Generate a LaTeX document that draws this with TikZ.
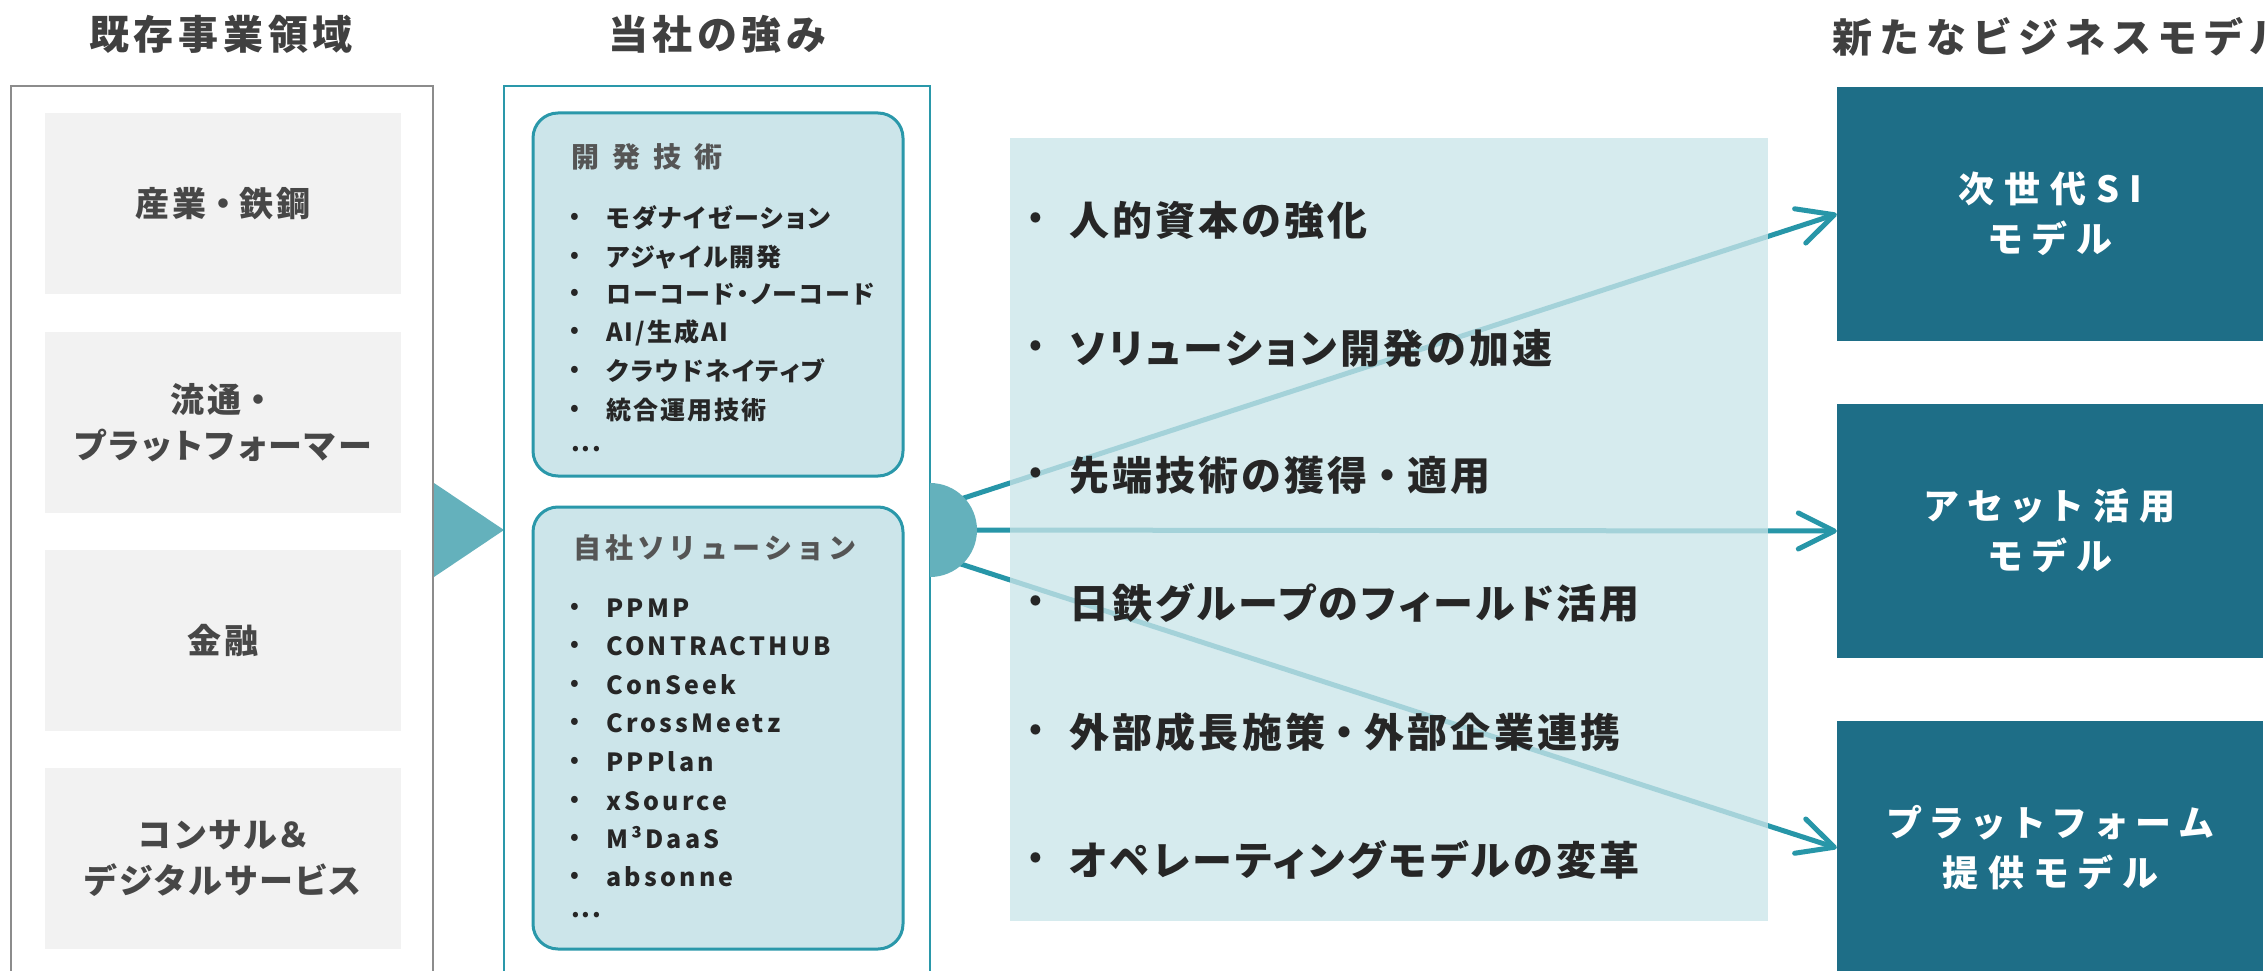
\documentclass[tikz,border=0pt]{standalone}
\usepackage{fontspec}
\setmainfont{Noto Sans CJK JP}[RawFeature=+palt]
\newfontfamily\jpplain{Noto Sans CJK JP}
\usetikzlibrary{arrows.meta}
\definecolor{tgray}{HTML}{404040}
\definecolor{boxtxt}{HTML}{474747}
\definecolor{itemtxt}{HTML}{262626}
\definecolor{headtxt}{HTML}{555555}
\definecolor{framegray}{HTML}{8C8C8C}
\definecolor{boxgray}{HTML}{F2F2F2}
\definecolor{frameteal}{HTML}{2A98AA}
\definecolor{rboxfill}{HTML}{CCE5EA}
\definecolor{hubteal}{HTML}{64B1BC}
\definecolor{lineteal}{HTML}{2796A8}
\definecolor{midfill}{RGB}{202,229,233}
\definecolor{modelblue}{HTML}{1E6E87}
\newcommand\myfs[3]{\fontsize{#1pt}{#2pt}\selectfont\addfontfeatures{LetterSpace=#3}}
\newcommand\nkg{\kern.24em・\kern.24em}
\begin{document}
\begin{tikzpicture}[x=1pt,y=-1pt,
  title/.style={font={\bfseries\myfs{40}{48}{12}}, text=tgray, inner sep=0pt},
  areabox/.style={fill=boxgray, minimum width=356pt, minimum height=181pt, inner sep=0pt, align=center, text=boxtxt, font={\bfseries\myfs{34}{46}{8}}},
  rbox/.style={draw=frameteal, line width=3pt, fill=rboxfill, rounded corners=25pt, inner sep=0pt},
  hdtext/.style={anchor=base west, inner sep=0pt, text=headtxt, font={\bfseries\myfs{28}{34}{#1}}},
  itm/.style={anchor=base west, inner sep=0pt, text=itemtxt, font={\bfseries\myfs{25}{30}{#1}}},
  itm/.default=8,
  bul/.style={inner sep=0pt, text=itemtxt, font={\bfseries\fontsize{22pt}{26pt}\selectfont}},
  bigitm/.style={anchor=base west, inner sep=0pt, text=itemtxt, font={\bfseries\myfs{40}{48}{8}}},
  bigbul/.style={inner sep=0pt, text=itemtxt, font={\bfseries\fontsize{32pt}{36pt}\selectfont}},
  modelbox/.style={fill=modelblue, minimum width=426pt, minimum height=254pt, inner sep=0pt, text=white, align=center, font={\bfseries\myfs{36}{50}{28}}},
  conn/.style={draw=lineteal, line width=5pt, -{Straight Barb[length=36pt,width=36pt,round]}}
]
\useasboundingbox (0,0) rectangle (2265,971);
\clip (0,0) rectangle (2265,971);
\fill[white] (0,0) rectangle (2265,971);

% titles
\node[title] (t1) at (221,34) {既存事業領域};
\node[title] (t2) at (717,34) {当社の強み};
\node[title, anchor=west, font={\bfseries\myfs{40}{48}{20}}] (t3) at (1832,37) {新たなビジネスモデル};

% left column
\draw[framegray, line width=2.5pt] (11,86) rectangle (433,1000);
\node[areabox] (a1) at (223,203.5) {産業\nkg 鉄鋼};
\node[areabox] (a2) at (223,422.5) {流通\nkg\\プラットフォーマー};
\node[areabox] (a3) at (223,640.5) {金融};
\node[areabox] (a4) at (223,858.5) {コンサル＆\\デジタルサービス};

% triangle
\fill[hubteal] (434,483) -- (504,530) -- (434,577) -- cycle;

% middle column
\draw[frameteal, line width=2.5pt] (504,86) rectangle (930,1000);
\node[rbox, minimum width=370pt, minimum height=363pt] (k1) at (718,294.5) {};
\node[rbox, minimum width=370pt, minimum height=442pt] (k2) at (718,728) {};
\node[hdtext=47] (hd1) at (571,167.6) {開発技術};
\node[hdtext=14, font={\jpplain\bfseries\myfs{28}{34}{14}}] (hd2) at (573,558.6) {自社ソリューション};
\foreach \y/\t [count=\i] in {218/モダナイゼーション, 257/アジャイル開発, 294/ローコード・ノーコード, 332/{AI/生成AI}, 371/クラウドネイティブ, 410/統合運用技術}{
  \node[bul] (ba\i) at (575,\y) {•};
  \node[itm] (ia\i) at (606,\y+9.5) {\t};
}
\node[itm] (ea) at (571,451) {...};
\foreach \y/\t [count=\i] in {608/PPMP, 646/CONTRACTHUB, 685/ConSeek, 723/CrossMeetz, 762/PPPlan, 801/xSource, 839/M³DaaS, 877/absonne}{
  \node[bul] (bb\i) at (575,\y) {•};
  \node[itm=13] (ib\i) at (606,\y+9.5) {\t};
}
\node[itm] (eb) at (571,917) {...};

% right boxes
\node[modelbox] (m1) at (2050,214) {次世代SI\\モデル};
\node[modelbox] (m2) at (2050,531) {アセット活用\\モデル};
\node[modelbox] (m3) at (2050,848) {プラットフォーム\\提供モデル};

% connectors
\coordinate (h1) at (930,509);
\coordinate (h2) at (930,530);
\coordinate (h3) at (930,554);
\draw[conn] (h1) -- (m1.west);
\draw[conn] (h2) -- (m2.west);
\draw[conn] (h3) -- (m3.west);

% translucent panel
\node[fill=midfill, fill opacity=0.77, minimum width=758pt, minimum height=783pt, inner sep=0pt] (mid) at (1389,529.5) {};
\foreach \y/\t [count=\i] in {220/人的資本の強化, 348/ソリューション開発の加速, 475/先端技術の獲得\nkg 適用, 603/日鉄グループのフィールド活用, 732/外部成長施策\nkg 外部企業連携, 860/オペレーティングモデルの変革}{
  \node[bigbul] (bc\i) at (1036,\y) {•};
  \node[bigitm] (ic\i) at (1069,\y+15.2) {\t};
}

% hub
\begin{scope}
\clip (930,470) rectangle (990,590);
\node[circle, fill=hubteal, minimum size=94pt, inner sep=0pt] (hub) at (930,530) {};
\end{scope}
\end{tikzpicture}
\end{document}
